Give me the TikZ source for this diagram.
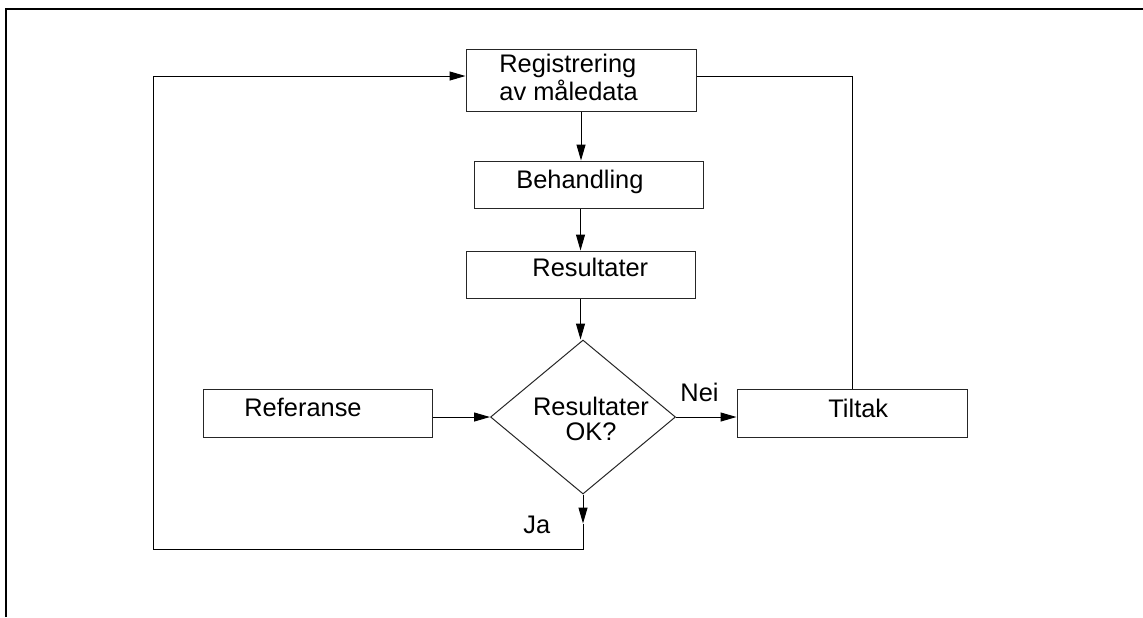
\documentclass[tikz,border=0pt]{standalone}
\usepackage{fontspec}
\setmainfont{Liberation Sans}
\usetikzlibrary{arrows.meta, calc, positioning, shapes.geometric}

\begin{document}
\begin{tikzpicture}[x=0.5pt, y=-0.5pt,
        boks/.style={rectangle, draw=black!85, line width=0.5pt, inner sep=0pt},
        tekst/.style={inner sep=0pt, font=\fontsize{12.7}{12.5}\selectfont},
        pil/.style={-{Triangle[length=8pt, width=4.5pt]}, line width=0.5pt}]

        \useasboundingbox (0,0) rectangle (1143,617);
        \draw[line width=1pt] (6,617) -- (6,9) -- (1143,9);

        \node[boks, minimum width=115pt, minimum height=31pt] (reg) at (581,80){};
        \node[boks, minimum width=114.5pt, minimum height=23.5pt] (beh) at (588.5,184.5){};
        \node[boks, minimum width=114.5pt, minimum height=23.5pt] (res) at (580.5,274.5){};
        \node[boks, diamond, minimum width=92.5pt, minimum height=77pt] (ok) at (583,417){};
        \node[boks, minimum width=114.5pt, minimum height=24pt] (ref) at (317.5,413){};
        \node[boks, minimum width=115pt, minimum height=24pt] (tilt) at (852,413){};
        \coordinate (hj) at (153,549);

        \node[tekst, anchor=base west, align=left] (regtxt) at (499,100.5) {Registrering\\av måledata};
        \node[tekst, anchor=base west] (behtxt) at (516,188) {Behandling};
        \node[tekst, anchor=base west] (restxt) at (532,276) {Resultater};
        \node[tekst, anchor=base, align=center] (oktxt) at (591,440) {Resultater\\OK?};
        \node[tekst, anchor=base west] (reftxt) at (244,416.5) {Referanse};
        \node[tekst, anchor=base west] (tilttxt) at (828,417) {Tiltak};
        \node[tekst, anchor=base west] (nei) at (680,401) {Nei};
        \node[tekst, anchor=base west] (ja) at (523,533) {Ja};

        \draw[pil] (reg.south) -- (reg.south |- beh.north);
        \draw[pil] (res.north |- beh.south) -- (res.north);
        \draw[pil] (res.south) -- (res.south |- ok.north);
        \draw[pil] (ref.east |- ok.west) -- (ok.west);
        \draw[pil] (ok.east) -- (ok.east -| tilt.west);
        \draw (tilt.north) |- ([yshift=2pt]reg.east);
        % Ja: tilbake til registrering
        \draw[pil] (ok.south) -- ++(0,29) coordinate (jamid);
        \draw[pil] (jamid) -- (ok.south |- hj) -- (hj) |- ([yshift=2pt]reg.west);

\end{tikzpicture}
\end{document}
